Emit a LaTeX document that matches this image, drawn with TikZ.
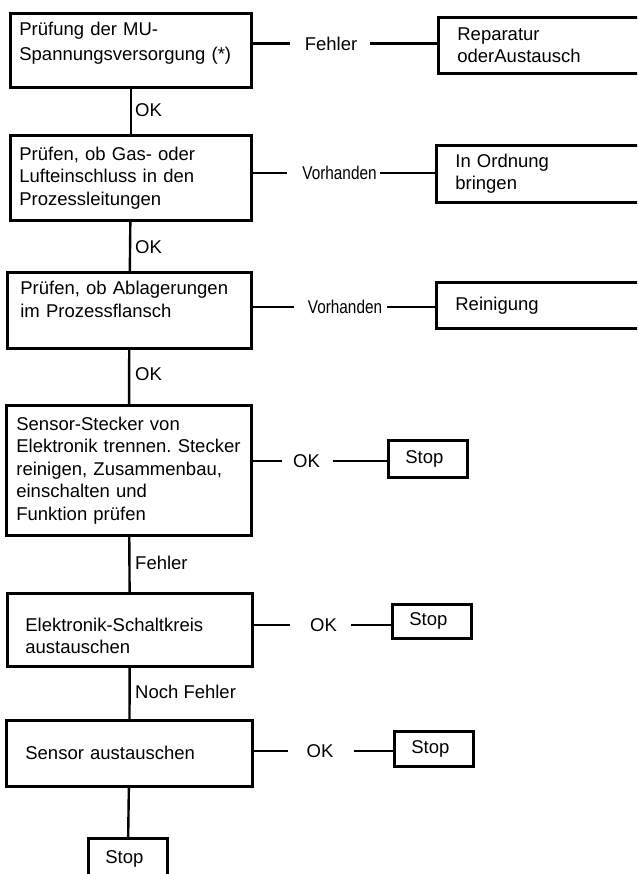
\documentclass[tikz,border=0pt]{standalone}
\usepackage{fontspec}
\setmainfont{Liberation Sans}
\usetikzlibrary{positioning}

\newcommand{\boxfont}{\fontsize{18.5}{22.5}\selectfont}

\begin{document}
\begin{tikzpicture}[x=1pt, y=-1pt,
    testbox/.style={draw, line width=2.7pt, anchor=north west, align=left,
      inner ysep=0pt, font=\boxfont},
    fixbox/.style={testbox, text width=240pt, inner xsep=19pt},
    stopbox/.style={testbox, text width=45pt, inner xsep=17pt},
    lbl/.style={inner sep=0pt, font=\boxfont},
    link/.style={line width=2.4pt}]

    % Define the bounding box of the page
    \useasboundingbox (0,0) rectangle (637,874);
    \clip (0,0) rectangle (637,874);

    % Test steps on the left
    \node[testbox, text width=223pt, inner xsep=9pt, minimum height=74pt,
      font={\fontsize{18.5}{25}\selectfont}] (spannung) at (9,12)
      {Prüfung der MU-\\Spannungsversorgung (*)\\[-6pt]\mbox{}};
    \node[testbox, text width=223pt, inner xsep=9pt, minimum height=85pt] (gas) at (9,134)
      {Prüfen, ob Gas- oder\\Lufteinschluss in den\\Prozessleitungen};
    \node[testbox, text width=218pt, inner xsep=13pt, minimum height=76pt] (flansch) at (6,271)
      {Prüfen, ob Ablagerungen\\im Prozessflansch\\\mbox{}};
    \node[testbox, text width=225pt, inner xsep=10pt, minimum height=130pt] (stecker) at (5,404)
      {Sensor-Stecker von\\Elektronik~trennen.~Stecker\\reinigen, Zusammenbau,\\einschalten und\\Funktion prüfen};
    \node[testbox, text width=209pt, inner xsep=18pt, minimum height=73pt] (schaltkreis) at (6,592)
      {\rule{0pt}{25pt}Elektronik-Schaltkreis\\austauschen};
    \node[testbox, text width=208pt, inner xsep=19pt, minimum height=66pt] (sensor) at (5,719)
      {Sensor austauschen};

    % Remedies on the right (cut by the page edge)
    \node[fixbox, minimum height=56pt] (reparatur) at (437,16) {Reparatur\\oderAustausch};
    \node[fixbox, minimum height=57pt] (ordnung) at (435,144) {In Ordnung\\bringen};
    \node[fixbox, minimum height=46pt] (reinigung) at (435,281) {Reinigung};

    % Stop boxes
    \node[stopbox, minimum height=37pt] (stopa) at (387,439) {Stop};
    \node[stopbox, minimum height=34pt] (stopb) at (391,603) {Stop};
    \node[stopbox, minimum height=35pt] (stopc) at (393,730) {Stop};
    \node[stopbox, minimum height=42pt] (stopd) at (87,837) {Stop};

    % Labels on the horizontal links
    \node[lbl] (fehlera) at (331,43.5) {Fehler};
    \node[lbl] (vorha) at (339.5,173) {\scalebox{0.83}[1]{Vorhanden}};
    \node[lbl] (vorhb) at (345,307) {\scalebox{0.83}[1]{Vorhanden}};
    \node[lbl] (oka) at (306.5,461) {OK};
    \node[lbl] (okb) at (323.5,625) {OK};
    \node[lbl] (okc) at (320,751) {OK};

    % Labels on the vertical links
    \node[lbl, anchor=west] (okd) at (135,110) {OK};
    \node[lbl, anchor=west] (oke) at (135,247) {OK};
    \node[lbl, anchor=west] (okf) at (135,374) {OK};
    \node[lbl, anchor=west] (fehlerb) at (135,563) {Fehler};
    \node[lbl, anchor=west] (nochfehler) at (135,692) {Noch Fehler};

    % Vertical links
    \draw[link] (spannung) -- (gas);
    \draw[link] (gas) -- (flansch);
    \draw[link] (flansch) -- (stecker);
    \draw[link] (stecker) -- (schaltkreis);
    \draw[link] (schaltkreis) -- (sensor);
    \draw[link] (sensor) -- (stopd);

    % Horizontal links
    \draw[link] (spannung.east |- fehlera) -- ([xshift=-15pt]fehlera.west);
    \draw[link] ([xshift=13pt]fehlera.east) -- (fehlera -| reparatur.west);
    \draw[link] (gas.east |- vorha) -- ([xshift=-15pt]vorha.west);
    \draw[link] ([xshift=3pt]vorha.east) -- (vorha -| ordnung.west);
    \draw[link] (flansch.east |- vorhb) -- ([xshift=-14pt]vorhb.west);
    \draw[link] ([xshift=5pt]vorhb.east) -- (vorhb -| reinigung.west);
    \draw[link] (stecker.east |- oka) -- ([xshift=-11pt]oka.west);
    \draw[link] ([xshift=13pt]oka.east) -- (oka -| stopa.west);
    \draw[link] (schaltkreis.east |- okb) -- ([xshift=-20pt]okb.west);
    \draw[link] ([xshift=14pt]okb.east) -- (okb -| stopb.west);
    \draw[link] (sensor.east |- okc) -- ([xshift=-18pt]okc.west);
    \draw[link] ([xshift=20pt]okc.east) -- (okc -| stopc.west);
\end{tikzpicture}
\end{document}
